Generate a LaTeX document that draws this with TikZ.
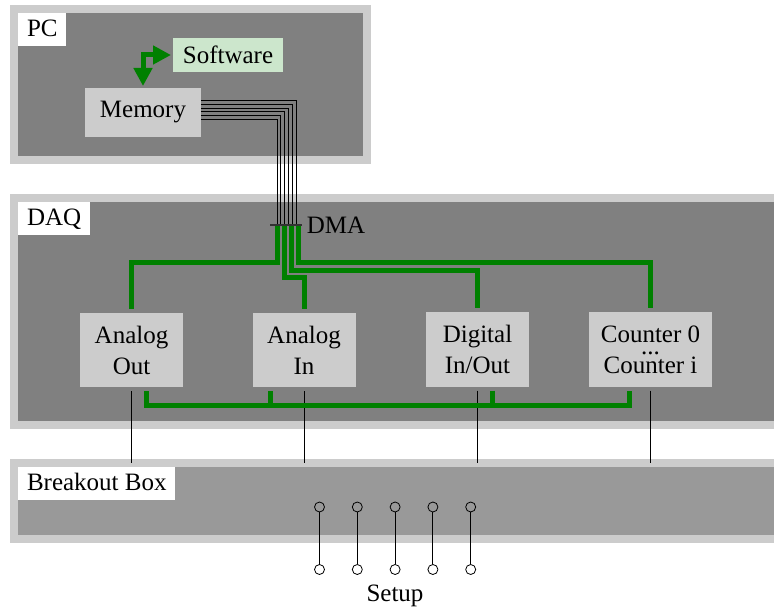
\documentclass[tikz,border=0pt]{standalone}
\usepackage{fontspec}
\setmainfont{Liberation Serif}
\usetikzlibrary{calc,arrows.meta}

\definecolor{busgreen}{RGB}{0,128,0}
\tikzset{
  panel/.style={draw=gray!40, line width=4pt, outer sep=0pt, inner sep=0pt, anchor=north west},
  tag/.style={fill=white, anchor=north west, inner xsep=4.3pt, inner ysep=2.25pt, text height=9.5pt, text depth=2.5pt},
  unit/.style={fill=gray!40, align=center, minimum width=51.5pt, minimum height=37pt, inner sep=0pt, outer sep=2pt},
  bus/.style={draw=busgreen, line width=2.5pt},
  wire/.style={draw=black, line width=0.5pt},
  pin/.style={circle, draw, inner sep=0pt, minimum size=5pt, line width=0.4pt},
}

\begin{document}
\begin{tikzpicture}[x=0.5pt,y=-0.5pt, every node/.style={font=\fontsize{12.5}{15.5}\selectfont}]
  \useasboundingbox (0,0) rectangle (774,608);
  \clip (0,0) rectangle (774,608);
  % panels
  \node[panel, fill=gray, minimum width=176.25pt, minimum height=75.5pt] (pc) at (14,9) {};
  \node[panel, fill=gray, minimum width=400pt, minimum height=113.5pt] (daq) at (14,198) {};
  \node[panel, fill=gray!80, minimum width=400pt, minimum height=38pt] (bob) at (14,463) {};
  \node[tag] (pclbl) at ([shift={(4,4)}]pc.north west) {PC};
  \node[tag] (daqlbl) at ([shift={(4,4)}]daq.north west) {DAQ};
  \node[tag] (boblbl) at ([shift={(4,4)}]bob.north west) {Breakout Box};

  % PC
  \node[fill=busgreen!20, minimum width=55pt, minimum height=17pt, inner sep=0pt, outer sep=1pt] (sw) at (228,55) {Software};
  \node[fill=gray!40, minimum width=58pt, minimum height=24.5pt, inner sep=0pt, outer sep=1pt] (mem) at (143,112.5) {Memory};
  \draw[bus, {Triangle[length=9pt,width=9pt]}-{Triangle[length=9pt,width=9pt]}] (sw.west) -| (mem.north);

  \coordinate (dma) at (286,225);
  \foreach \i in {0,...,5}
    \draw[wire] ($(mem.east)+(-2,-12+3.8*\i)$) -| ($(dma)+(10.5-3.9*\i,0)$);

  % DAQ
  \node[unit] (ao) at (131.5,350) {Analog\\Out};
  \node[unit] (ai) at (304,350) {Analog\\In};
  \node[unit] (dio) at (477.5,349.5) {Digital\\In/Out};
  \node[unit, minimum width=61.5pt] (ctr) at (650.5,349.5) {Counter 0\\[-9.5pt]...\\[-6pt]Counter i};

  \foreach \n in {ao,ai,dio,ctr}
    \draw[wire] (\n.south) -- (\n.south |- bob.north);

  \draw[bus] ($(dma)+(-9,0)$) -- ++(0,38) -| (ao.north);
  \draw[bus] ($(dma)+(-2,0)$) -- ++(0,53) -| (ai.north);
  \draw[bus] ($(dma)+(5,0)$) -- ++(0,45.5) -| (dio.north);
  \draw[bus] ($(dma)+(12,0)$) -- ++(0,38) -| (ctr.north);

  \draw[bus] ($(ao.south)+(15,0)$) -- ++(0,14.5) -| ($(ctr.south)+(-21.5,0)$);
  \draw[bus] ($(ai.south)+(-33.5,0)$) -- ++(0,14.5);
  \draw[bus] ($(dio.south)+(15,0)$) -- ++(0,14.5);

  \draw[line width=0.8pt, black!80] ($(dma)+(-16,0)$) -- ($(dma)+(16,0)$) node[right, inner sep=2pt, text=black] (dmalbl) {DMA};

  % breakout pins
  \foreach \i in {1,...,5} {
    \node[pin] (top\i) at (281.7+37.8*\i,507) {};
    \node[pin] (bot\i) at (281.7+37.8*\i,569.5) {};
    \draw[wire] (top\i) -- (bot\i);
  }
  \node[anchor=base] (setup) at (395,601) {Setup};
\end{tikzpicture}
\end{document}
